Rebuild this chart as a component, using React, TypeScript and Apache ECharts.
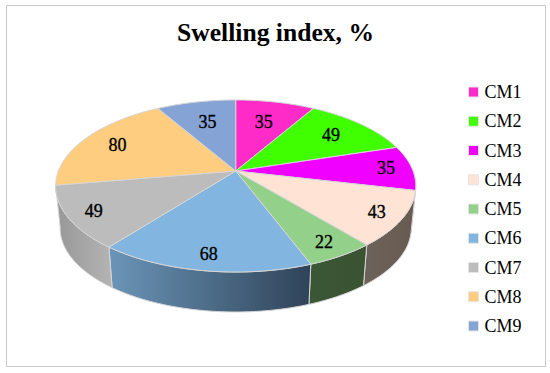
import React, { useEffect, useRef } from "react";
import * as echarts from "echarts";

const titleText = "Swelling index, %";
const categories = ["CM1", "CM2", "CM3", "CM4", "CM5", "CM6", "CM7", "CM8", "CM9"];
const values = [35, 49, 35, 43, 22, 68, 49, 80, 35];
const topColors = ["#ff2bc8", "#40ff00", "#f000ff", "#ffe3d4", "#93d089", "#82b5e0", "#bcbcbc", "#ffcd7f", "#86a3d6"];
const wallColorsLeft = ["#7a2060", "#208000", "#780080", "#6d6259", "#3b5735", "#6b95b8", "#979797", "#9a7c4d", "#51627f"];
const wallColorsRight = ["#7a2060", "#208000", "#780080", "#675a51", "#3a5333", "#2f4358", "#b4b4b4", "#9a7c4d", "#51627f"];

const total = values.reduce((a, b) => a + b, 0);
const cumulative: number[] = [];
values.reduce((a, b, i) => ((cumulative[i] = a), a + b), 0);

// perspective projection of the pie disc
const CX = 235.7;
const CY = 171;
const RX = 177.3;
const RY = 83.4;
const K = 0.1744;
const WALL_Y = 213.5;
const WALL_S = 0.975;
const WALL_FROM = Math.PI / 2;
const WALL_TO = Math.PI * 1.447;

function topPoint(theta: number, r = 1): [number, number] {
  const u = r * Math.sin(theta);
  const v = r * Math.cos(theta);
  const d = 1 + K * v;
  return [CX + (RX * u) / d, CY - (RY * v) / d];
}
function wallPoint(theta: number): [number, number] {
  const u = Math.sin(theta);
  const v = Math.cos(theta);
  const d = 1 + K * v;
  return [CX + (WALL_S * RX * u) / d, WALL_Y - (WALL_S * RY * v) / d];
}
function arc(a0: number, a1: number, fn: (t: number) => [number, number]) {
  const n = Math.max(2, Math.ceil(Math.abs(a1 - a0) / 0.02));
  const pts: [number, number][] = [];
  for (let i = 0; i <= n; i++) pts.push(fn(a0 + ((a1 - a0) * i) / n));
  return pts;
}

const LINE = "#d6d6d6";
const FONT = "'Liberation Serif', serif";

function renderSlice(index: number) {
  return (_params: any, api: any) => {
    const value = api.value(0);
    const a0 = (cumulative[index] / total) * Math.PI * 2;
    const a1 = a0 + (value / total) * Math.PI * 2;
    const mid = (a0 + a1) / 2;
    const children: any[] = [];
    const wa0 = Math.max(a0, WALL_FROM);
    const wa1 = Math.min(a1, WALL_TO);
    if (wa1 > wa0) {
      const pts = [...arc(wa0, wa1, (t) => topPoint(t)), ...arc(wa1, wa0, wallPoint)];
      children.push({
        type: "polygon",
        z2: 1,
        shape: { points: pts },
        style: {
          fill: new echarts.graphic.LinearGradient(0, 0, 1, 0, [
            { offset: 0, color: wallColorsLeft[index] },
            { offset: 1, color: wallColorsRight[index] },
          ]),
          stroke: LINE,
          lineWidth: 1,
        },
      });
    }
    children.push({
      type: "polygon",
      z2: 10,
      shape: { points: [[CX, CY], ...arc(a0, a1, (t) => topPoint(t))] },
      style: { fill: topColors[index], stroke: LINE, lineWidth: 1 },
    });
    const v = Math.cos(mid);
    const lp = topPoint(mid, 0.86 - 0.19 * Math.max(v, 0));
    children.push({
      type: "text",
      z2: 20,
      x: lp[0],
      y: lp[1],
      style: {
        text: String(value),
        fill: "#000",
        stroke: "#000",
        lineWidth: 0.35,
        font: `18px ${FONT}`,
        align: "center",
        verticalAlign: "middle",
      },
    });
    return { type: "group", children };
  };
}

export default function App() {
  const ref = useRef<HTMLDivElement>(null);
  useEffect(() => {
    const chart = echarts.init(ref.current!, null, { renderer: "svg" });
    chart.setOption({
      animation: false,
      backgroundColor: "#fff",
      title: {
        text: titleText,
        left: 270.5,
        top: 14,
        textAlign: "center",
        textStyle: { fontFamily: FONT, fontWeight: "bold", fontSize: 25.6, color: "#000" },
      },
      legend: {
        orient: "vertical",
        left: 468,
        top: 83,
        padding: 0,
        icon: "rect",
        itemWidth: 10,
        itemHeight: 10,
        itemGap: 11.25,
        selectedMode: false,
        data: categories,
        itemStyle: { borderColor: "#e4e4e4", borderWidth: 1 },
        textStyle: { fontFamily: FONT, fontSize: 18, color: "#000", padding: [0, 0, 0, 1] },
      },
      graphic: [
        {
          type: "rect",
          silent: true,
          shape: { x: 6.5, y: 5.5, width: 539, height: 361 },
          style: { fill: "none", stroke: "#c8c8c8", lineWidth: 1 },
        },
      ],
      series: categories.map((name, i) => ({
        type: "custom",
        name,
        coordinateSystem: "none",
        itemStyle: { color: topColors[i] },
        data: [[values[i]]],
        renderItem: renderSlice(i),
      })),
    });
    return () => chart.dispose();
  }, []);
  return <div ref={ref} style={{ position: "absolute", left: 0, top: 0, width: 550, height: 373 }} />;
}
